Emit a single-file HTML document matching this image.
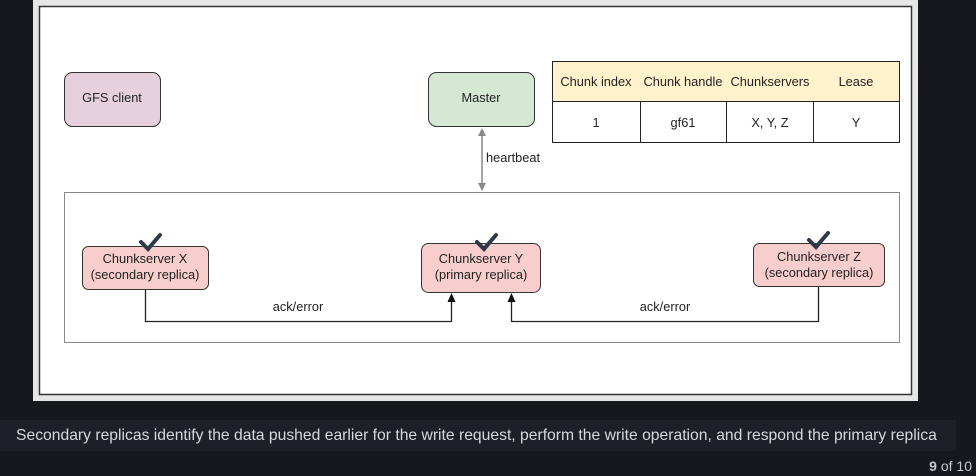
<!DOCTYPE html>
<html><head><style>
body{margin:0;width:976px;height:476px;background:#17181e;overflow:hidden;position:relative;font-family:"Liberation Sans",sans-serif}
.cap{position:absolute;left:0;top:420px;width:956px;height:31px;background:#1e2027;color:#d6d8dc;font-size:15.7px;line-height:31px;padding-left:16px;box-sizing:border-box;white-space:nowrap}
.pg{position:absolute;right:4px;top:458px;color:#c8cacf;font-size:14px}
</style></head><body>
<svg width="976" height="410" style="position:absolute;left:0;top:0" font-family="Liberation Sans, sans-serif" font-size="12.8">
<rect x="33" y="0" width="885" height="401" fill="#e6e6e6"/>
<rect x="39.5" y="6.5" width="872" height="388" fill="#fff" stroke="#333" stroke-width="1.5"/>
<rect x="64.5" y="192.5" width="835" height="150" fill="#fff" stroke="#888"/>
<rect x="64.5" y="72.5" width="96" height="54" rx="8" fill="#e6d0de" stroke="#333"/>
<text x="112" y="102" text-anchor="middle" fill="#222">GFS client</text>
<rect x="428.5" y="72.5" width="106" height="54" rx="8" fill="#d5e8d4" stroke="#333"/>
<text x="481" y="102" text-anchor="middle" fill="#222">Master</text>
<rect x="552.5" y="61.5" width="347" height="40" fill="#fff2cc" stroke="#222"/>
<rect x="552.5" y="101.5" width="347" height="41" fill="#fff" stroke="#222"/>
<line x1="640.5" y1="101" x2="640.5" y2="142" stroke="#222"/>
<line x1="726.5" y1="101" x2="726.5" y2="142" stroke="#222"/>
<line x1="813.5" y1="101" x2="813.5" y2="142" stroke="#222"/>
<g text-anchor="middle" fill="#222">
<text x="596" y="86">Chunk index</text><text x="683" y="86">Chunk handle</text><text x="770" y="86">Chunkservers</text><text x="856" y="86">Lease</text>
<text x="596" y="127">1</text><text x="683" y="127">gf61</text><text x="770" y="127">X, Y, Z</text><text x="856" y="127">Y</text>
</g>
<line x1="482" y1="134" x2="482" y2="184" stroke="#888" stroke-width="1.5"/>
<path d="M482 128 l-4 8 h8z M482 191 l-4 -8 h8z" fill="#888"/>
<text x="486" y="162" fill="#222">heartbeat</text>
<rect x="82.5" y="246.5" width="126" height="43" rx="6" fill="#f8cecc" stroke="#333"/>
<text x="145" y="263" text-anchor="middle" fill="#222">Chunkserver X</text><text x="145" y="279" text-anchor="middle" fill="#222">(secondary replica)</text>
<rect x="421.5" y="243.5" width="119" height="49" rx="7" fill="#f8cecc" stroke="#333"/>
<text x="481" y="263" text-anchor="middle" fill="#222">Chunkserver Y</text><text x="481" y="279" text-anchor="middle" fill="#222">(primary replica)</text>
<rect x="753.5" y="243.5" width="131" height="43" rx="6" fill="#f8cecc" stroke="#333"/>
<text x="819" y="261" text-anchor="middle" fill="#222">Chunkserver Z</text><text x="819" y="277" text-anchor="middle" fill="#222">(secondary replica)</text>
<g stroke="#2e3a48" stroke-width="4" fill="none" stroke-linecap="round">
<path d="M141 242 l7 7 l12 -14"/><path d="M477 242 l7 7 l12 -14"/><path d="M809 240 l7 7 l12 -14"/>
</g>
<g stroke="#222" stroke-width="1.3" fill="none">
<path d="M145.5 290 V321.5 H451.5 V298"/><path d="M818.5 287 V321.5 H511.5 V298"/>
</g>
<path d="M451.5 293 l-4 9 h8z M511.5 293 l-4 9 h8z" fill="#111"/>
<text x="298" y="311" text-anchor="middle" fill="#222">ack/error</text>
<text x="665" y="311" text-anchor="middle" fill="#222">ack/error</text>
</svg>
<div class="cap">Secondary replicas identify the data pushed earlier for the write request, perform the write operation, and respond the primary replica</div>
<div class="pg"><b>9</b> of 10</div>
</body></html>
